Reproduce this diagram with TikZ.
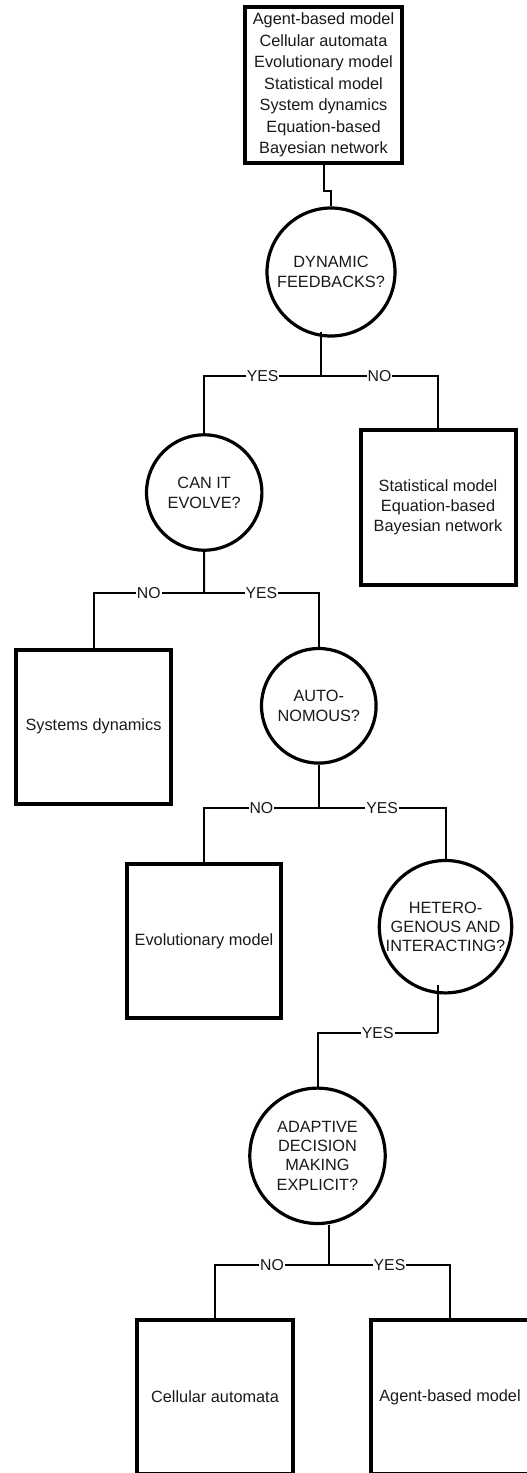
\documentclass[tikz,border=0pt]{standalone}
\usepackage{fontspec}
\setmainfont{Liberation Sans}
\begin{document}
\begin{tikzpicture}[x=1pt,y=-1pt,
  every node/.style={font=\fontsize{16.3}{20}\selectfont, text=black!90},
  outcome/.style={draw=black, line width=4pt, rectangle, align=center, inner sep=0pt},
  decision/.style={draw=black, line width=3.2pt, circle, inner sep=0pt},
  qtext/.style={align=center, inner sep=0pt},
  conn/.style={draw=black, line width=2pt},
  lbl/.style={fill=white, inner xsep=1pt, inner ysep=0pt, font=\fontsize{15.8}{18}\selectfont}
]
\useasboundingbox (0,0) rectangle (527,1473);
\clip (0,0) rectangle (527,1473);

% outcome boxes
\node[outcome, minimum width=157pt, minimum height=156pt, font=\fontsize{16.3}{21.5}\selectfont] (top) at (323.5,85)
  {Agent-based model\\Cellular automata\\Evolutionary model\\Statistical model\\System dynamics\\Equation-based\\Bayesian network};
\node[outcome, minimum width=155pt, minimum height=155pt] (stat) at (438,507.5)
  {Statistical model\\Equation-based\\Bayesian network};
\node[outcome, minimum width=155pt, minimum height=154pt] (sys) at (93.5,726.5) {Systems dynamics};
\node[outcome, minimum width=154pt, minimum height=154pt] (evo) at (204,941.3) {Evolutionary model};
\node[outcome, minimum width=156pt, minimum height=154pt] (cell) at (215,1397) {Cellular automata};
\node[outcome, minimum width=158pt, minimum height=154pt] (agent) at (450,1397) {Agent-based model};

% decision circles
\node[decision, minimum size=128pt, label={[qtext]center:{DYNAMIC\\FEEDBACKS?}}] (dyn) at (331,272) {};
\node[decision, minimum size=115.4pt, label={[qtext]center:{CAN IT\\EVOLVE?}}] (can) at (204.2,492.5) {};
\node[decision, minimum size=114.6pt, label={[qtext]center:{AUTO-\\NOMOUS?}}] (auto) at (318.8,705.8) {};
\node[decision, minimum size=132.4pt, label={[qtext, font=\fontsize{16.3}{19}\selectfont]center:{HETERO-\\GENOUS AND\\INTERACTING?}}] (het) at (445.5,926.7) {};
\node[decision, minimum size=135.4pt, label={[qtext, font=\fontsize{16.3}{19.3}\selectfont]center:{ADAPTIVE\\DECISION\\MAKING\\EXPLICIT?}}] (adapt) at (317.5,1155.8) {};

% junction points
\coordinate (j1) at (321,376);
\coordinate (j2) at (204,593);
\coordinate (j3) at (318.8,808);
\coordinate (j4) at (438,1033);
\coordinate (j5) at (329,1265);

% connectors
\draw[conn] (top.south) -- ++(0,26) -| (dyn.north);

\draw[conn] ([xshift=-10pt,yshift=6pt]dyn.south) -- (j1);
\draw[conn] (j1) -| node[lbl,pos=0.25]{YES} (can.north);
\draw[conn] (j1) -| node[lbl,pos=0.25]{NO} (stat.north);

\draw[conn] (can.south) -- (j2);
\draw[conn] (j2) -| node[lbl,pos=0.25]{NO} (sys.north);
\draw[conn] (j2) -| node[lbl,pos=0.25]{YES} (auto.north);

\draw[conn] (auto.south) -- (j3);
\draw[conn] (j3) -| node[lbl,pos=0.25]{NO} (evo.north);
\draw[conn] (j3) -| node[lbl,pos=0.25]{YES} (het.north);

\draw[conn] ([xshift=-7.5pt,yshift=10pt]het.south) -- (j4);
\draw[conn] (j4) -| node[lbl,pos=0.25]{YES} (adapt.north);

\draw[conn] ([xshift=11.5pt]adapt.south) -- (j5);
\draw[conn] (j5) -| node[lbl,pos=0.25]{NO} (cell.north);
\draw[conn] (j5) -| node[lbl,pos=0.25]{YES} (agent.north);
\end{tikzpicture}
\end{document}
